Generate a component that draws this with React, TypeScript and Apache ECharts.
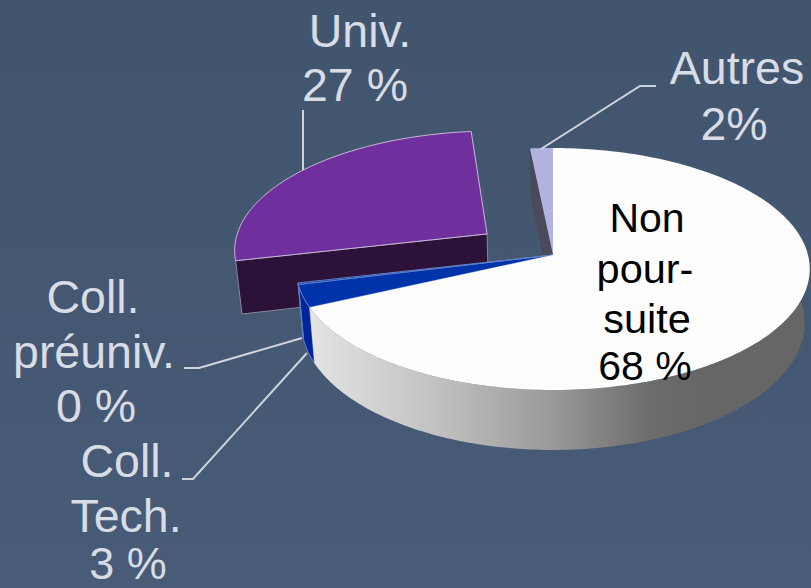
import React, { useEffect, useRef } from "react";
import * as echarts from "echarts";

const categories = ["Non poursuite", "Coll. Tech.", "Coll. préuniv.", "Univ.", "Autres"];
const sliceValues = [68, 3, 0.2, 27, 1.6];
const sliceTop = ["#fdfdfd", "#0033aa", "#0033aa", "#6f2f9c", "#b3b3e0"];
const sliceWall = ["#888888", "#00259a", "#00259a", "#2c1239", "#4a4a5a"];
const sliceExplode = [[0, 0], [0, 0], [0, 0], [-0.264, -0.18], [0, 0]];
const sliceLayer = [4, 3, 3, 1, 2];

const AX = 553, AY = 255, SX = 255, SY = 119.4, K = 0.1157, DEPTH = 53, BOTTOM_X = 0.98;

const proj = (u: number, v: number, low = false): number[] => {
  const d = 1 - K * v;
  const x = (SX * u) / d;
  const y = (SY * v) / d + (low ? DEPTH / d : 0);
  return [AX + (low ? x * BOTTOM_X : x), AY + y];
};

const total = sliceValues.reduce((a, b) => a + b, 0);

const arcPoints = (a0: number, a1: number, ex: number[], low = false) => {
  const pts: number[][] = [];
  const n = Math.max(2, Math.ceil(Math.abs(a1 - a0) / 0.02));
  for (let i = 0; i <= n; i++) {
    const t = a0 + ((a1 - a0) * i) / n;
    pts.push(proj(Math.sin(t) + ex[0], -Math.cos(t) + ex[1], low));
  }
  return pts;
};

const renderItem = (_p: any, api: any) => {
  const i = _p.dataIndex;
  const a0 = (sliceValues.slice(0, i).reduce((a, b) => a + b, 0) / total) * Math.PI * 2;
  const a1 = a0 + (api.value(0) / total) * Math.PI * 2;
  const ex = sliceExplode[i];
  const z = sliceLayer[i] * 10;
  const topArc = arcPoints(a0, a1, ex);
  const apex = proj(ex[0], ex[1]);
  const apexLow = proj(ex[0], ex[1], true);
  const children: any[] = [];
  const poly = (points: number[][], fill: any, z2: number, stroke?: string) => ({
    type: "polygon",
    z2,
    shape: { points },
    style: { fill, stroke: stroke || "none", lineWidth: stroke ? 1 : 0 },
  });
  if (i === 3) {
    const c = topArc[0];
    const cLow = arcPoints(a0, a0, ex, true)[0];
    children.push(poly([c, apex, apexLow, cLow], sliceWall[i], z, "#8c8696"));
    children.push(poly([apex, ...topArc], sliceTop[i], z + 1, "#c9b8d8"));
  } else if (i === 4) {
    const c = topArc[0];
    const cLow = arcPoints(a0, a0, ex, true)[0];
    children.push(poly([c, apex, apexLow, cLow], sliceWall[i], z));
    children.push(poly([apex, ...topArc], sliceTop[i], z + 1));
  } else if (i === 1 || i === 2) {
    const lowArc = arcPoints(a0, a1, ex, true);
    children.push(poly([...topArc, ...lowArc.reverse()], sliceWall[i], z, "#5f80c8"));
    children.push(poly([apex, ...topArc], sliceTop[i], z + 1, "#5f80c8"));
  } else {
    const a2 = Math.PI * 0.4;
    const wallTop = arcPoints(a2, a1, ex);
    const wallLow = arcPoints(a2, a1, ex, true);
    const grad = new echarts.graphic.LinearGradient(
      310, 0, 811, 0,
      [
        { offset: 0, color: "#e4e4e4" },
        { offset: 0.26, color: "#c0c0c0" },
        { offset: 0.48, color: "#9a9a9a" },
        { offset: 0.68, color: "#6c6c6c" },
        { offset: 0.8, color: "#666666" },
        { offset: 1, color: "#666666" },
      ],
      true
    );
    children.push(poly([...wallTop, ...wallLow.reverse()], grad, z));
    children.push(poly([apex, ...topArc], sliceTop[i], z + 1));
  }
  return { type: "group", children };
};

const labelColor = "#d8dce4";
const labelFont = "Liberation Sans";

const label = (x: number, y: number, text: string, fill = labelColor, size = 46.5) => ({
  type: "text",
  x,
  y,
  z: 30,
  style: {
    text,
    fill,
    fontFamily: labelFont,
    fontSize: size,
    align: "center",
    verticalAlign: "middle",
  },
});

const leader = (points: number[][]) => ({
  type: "polyline",
  z: 5,
  shape: { points },
  style: { stroke: "#cfd3db", lineWidth: 2, fill: "none" },
});

export default function App() {
  const ref = useRef<HTMLDivElement>(null);
  useEffect(() => {
    const chart = echarts.init(ref.current!, null, { renderer: "svg" });
    chart.setOption({
      animation: false,
      backgroundColor: new echarts.graphic.LinearGradient(0, 0, 0, 1, [
        { offset: 0, color: "#42556e" },
        { offset: 1, color: "#485b77" },
      ]),
      series: [
        {
          type: "custom",
          coordinateSystem: "none",
          silent: true,
          clip: false,
          renderItem,
          encode: { value: 0 },
          data: sliceValues.map((v, i) => ({ name: categories[i], value: [v] })),
        },
      ],
      graphic: {
        elements: [
          leader([[303, 110], [303, 170]]),
          leader([[656, 86], [640, 86], [541, 149]]),
          leader([[184, 368], [199, 368], [302, 338]]),
          leader([[182, 479], [193, 479], [307, 353]]),
          label(360, 31, "Univ."),
          label(355, 85, "27 %"),
          label(737, 68, "Autres"),
          label(734, 124, "2%"),
          label(93, 297, "Coll."),
          label(94, 352, "préuniv."),
          label(96, 406, "0 %"),
          label(127, 461, "Coll."),
          label(126, 516, "Tech."),
          label(128, 563, "3 %", labelColor, 45),
          label(647, 218, "Non", "#000000", 41),
          label(645, 268, "pour-", "#000000", 41.5),
          label(647, 318, "suite", "#000000", 41.5),
          label(645, 366, "68 %", "#000000", 41),
        ],
      },
    });
    return () => chart.dispose();
  }, []);
  return <div ref={ref} style={{ position: "fixed", left: 0, top: 0, width: 811, height: 588 }} />;
}
